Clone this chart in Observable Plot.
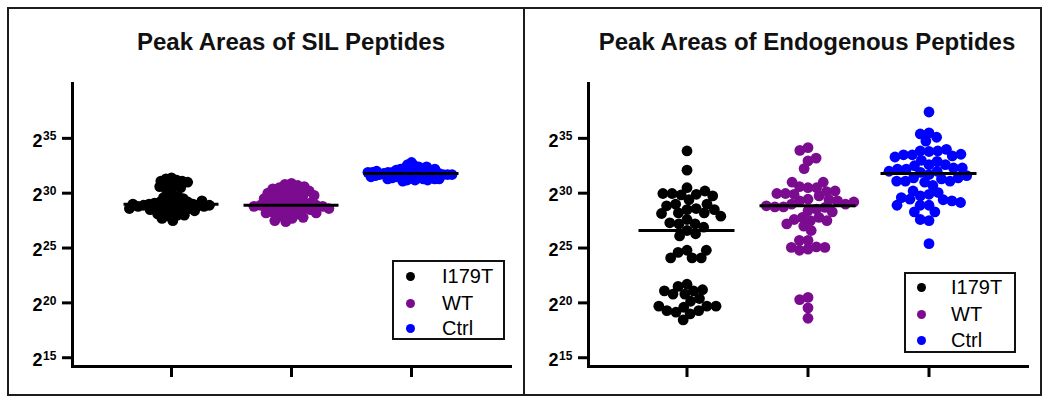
<!DOCTYPE html>
<html>
<head>
<meta charset="utf-8">
<script src="https://cdn.jsdelivr.net/npm/d3@7"></script>
<script src="https://cdn.jsdelivr.net/npm/@observablehq/plot@0.6"></script>
<style>
  html, body { margin: 0; padding: 0; background: #fff; }
  #root { position: relative; width: 1050px; height: 404px; overflow: hidden; font-family: Arial, "Liberation Sans", sans-serif; }
  .frame { position: absolute; left: 7px; top: 7px; width: 1035px; height: 389px; box-sizing: border-box; border: 2px solid #1c1c1c; }
  .divider { position: absolute; left: 523px; top: 7px; width: 2px; height: 389px; background: #1c1c1c; }
  .layer { position: absolute; top: 0; }
  .layer svg { display: block; max-width: none; }
  .title { position: absolute; width: 560px; text-align: center; font-weight: bold; font-size: 24px; line-height: 24px; color: #111; white-space: nowrap; }
  .legend { position: absolute; box-sizing: border-box; border: 2px solid #111; background: #fff; }
  .legend .dot { position: absolute; width: 9px; height: 9px; border-radius: 50%; }
  .legend .lab { position: absolute; font-size: 20px; line-height: 20px; color: #000; }
</style>
</head>
<body>
<div id="root">
  <div class="frame"></div>
  <div class="divider"></div>
</div>
<script>
// ---------- data ----------
const groups = ["I179T", "WT", "Ctrl"];
const groupColors = ["#000000", "#7b0c8f", "#0000ff"];
const yTickExponents = [15, 20, 25, 30, 35];
const yDomainExponents = [14.2, 40];

const titles = ["Peak Areas of SIL Peptides", "Peak Areas of Endogenous Peptides"];

// log2 of peak area, SIL peptides
const silI179T = [31.4, 31.3, 31.2, 31.1, 31.1, 31.0, 30.9, 30.7, 30.6, 30.5, 30.6, 30.3, 30.0, 29.8, 29.7,
  29.6, 29.5, 29.4, 29.3, 29.2, 29.2, 29.1, 29.1, 29.0, 29.0, 29.0, 28.9, 28.9, 28.9, 28.8, 28.8, 28.8,
  28.7, 28.7, 28.6, 28.6, 28.5, 28.5, 28.4, 28.4, 28.3, 28.2, 28.1, 28.0, 28.0, 27.9, 27.7, 27.5,
  29.3, 28.9, 29.0, 28.6];
const silWT = [30.9, 30.8, 30.7, 30.6, 30.5, 30.4, 30.3, 30.2, 30.1, 30.0, 30.0, 29.9, 29.8, 29.8, 29.7,
  29.6, 29.5, 29.4, 29.3, 29.2, 29.1, 29.1, 29.0, 29.0, 28.9, 28.9, 28.9, 28.8, 28.8, 28.7, 28.7, 28.6,
  28.6, 28.5, 28.5, 28.4, 28.3, 28.2, 28.2, 28.1, 28.0, 27.9, 27.8, 27.7, 27.5, 27.4];
const silCtrl = [32.8, 32.6, 32.5, 32.4, 32.3, 32.3, 32.2, 32.2, 32.1, 32.1, 32.0, 32.0, 32.0, 31.9, 31.9,
  31.9, 31.9, 31.8, 31.8, 31.8, 31.8, 31.8, 31.7, 31.7, 31.7, 31.7, 31.6, 31.6, 31.6, 31.5, 31.5, 31.5,
  31.4, 31.4, 31.4, 31.3, 31.3, 31.3, 31.2, 31.2, 31.1, 32.4, 32.2, 32.0, 31.9, 31.7, 31.6, 31.5, 31.3,
  31.2, 31.9];
const silMedians = [29.0, 28.9, 31.8];

// log2 of peak area, endogenous peptides
const endoI179T = [33.85, 32.1, 30.5, 29.85, 29.4, 29.9, 29.97, 30.2, 29.97, 29.75, 28.5, 28.2, 28.6, 29.0,
  28.2, 28.85, 29.0, 28.5, 28.15, 27.6, 27.9, 27.2, 27.2, 27.3, 26.6, 26.9, 26.1, 26.3, 24.8, 24.6, 24.1,
  24.1, 24.1, 24.8, 21.7, 21.5, 21.1, 21.2, 20.8, 20.8, 21.1, 20.15, 20.4, 19.6, 19.0, 19.3, 19.15, 19.3,
  19.7, 19.7, 19.7, 18.45];
const endoWT = [34.15, 33.9, 32.94, 32.24, 33.2, 30.5, 30.6, 30.5, 31.0, 31.0, 29.45, 29.3, 29.75, 29.9,
  30.15, 29.97, 30.2, 29.97, 29.4, 28.4, 28.55, 29.0, 28.75, 29.3, 28.75, 29.0, 28.7, 28.85, 27.8, 27.5,
  27.8, 27.6, 27.5, 27.0, 26.6, 25.7, 24.9, 24.8, 25.1, 25.06, 25.06, 25.7, 20.5, 20.3, 19.55, 18.6,
  29.2, 28.3, 27.2];
const endoCtrl = [37.4, 35.5, 35.4, 35.1, 34.75, 33.8, 33.85, 33.85, 34.0, 33.5, 32.6, 33.4, 33.5, 33.0,
  33.55, 33.3, 32.9, 32.5, 32.6, 32.2, 32.3, 31.7, 32.2, 32.0, 32.3, 32.0, 31.9, 31.3, 31.4, 31.0, 31.1,
  30.7, 31.1, 31.4, 31.6, 31.1, 29.9, 29.75, 30.06, 30.2, 29.4, 29.45, 29.3, 29.6, 28.9, 28.9, 29.15, 28.9,
  28.3, 28.3, 27.5, 27.6, 25.4];
const endoMedians = [26.6, 28.85, 31.8];

// ---------- drawing ----------
const root = document.getElementById("root");
const FONT = "Arial, Liberation Sans, sans-serif";

function panel(cfg) {
  const W = 525, H = 404;
  const common = {
    width: W, height: H,
    marginTop: 83, marginBottom: 38,
    marginLeft: cfg.marginLeft, marginRight: cfg.marginRight,
    style: {background: "transparent", overflow: "visible"}
  };
  const yScale = {type: "log", base: 2, domain: yDomainExponents.map(e => 2 ** e)};

  const base = Plot.plot({
    ...common,
    x: {type: "band", domain: groups, paddingInner: 0, paddingOuter: cfg.paddingOuter},
    y: {...yScale},
    marks: [
      Plot.frame({anchor: "left", stroke: "#000", strokeWidth: 3, strokeLinecap: "square"}),
      Plot.frame({anchor: "bottom", stroke: "#000", strokeWidth: 3, strokeLinecap: "square"}),
      Plot.axisY(yTickExponents.map(e => 2 ** e), {tickSize: 10, strokeWidth: 3, tickFormat: () => "", label: null, stroke: "#000"}),
      Plot.axisX({tickSize: 11, strokeWidth: 3, tickFormat: () => "", label: null, stroke: "#000"}),
      Plot.text(yTickExponents, {y: e => 2 ** e, text: () => "2", frameAnchor: "left", textAnchor: "end",
        dx: -30, dy: 2.4, fontSize: 18, fontWeight: "bold", fill: "#000", fontFamily: FONT}),
      Plot.text(yTickExponents, {y: e => 2 ** e, text: e => String(e), frameAnchor: "left", textAnchor: "start",
        dx: -29.5, dy: -2, fontSize: 12, fontWeight: "bold", fill: "#000", fontFamily: FONT})
    ]
  });

  const dotMarks = groups.map((g, i) =>
    Plot.dot(cfg.series[i].map(e => ({group: g, exp: e})),
      Plot.dodgeX({anchor: "middle", r: cfg.dodgeR[i], padding: 0},
        {fx: "group", y: d => 2 ** d.exp, fill: "group", r: 5.4})));

  const top = Plot.plot({
    ...common,
    fx: {domain: groups, paddingInner: 0, paddingOuter: cfg.paddingOuter, axis: null, label: null},
    y: {...yScale, axis: null},
    color: {domain: groups, range: groupColors},
    marks: [
      ...dotMarks,
      Plot.tickY(groups.map((g, i) => ({group: g, exp: cfg.medians[i]})),
        {fx: "group", y: d => 2 ** d.exp, stroke: "#000", strokeWidth: 3, insetLeft: 12.5, insetRight: 12.5})
    ]
  });

  for (const svg of [base, top]) {
    const d = document.createElement("div");
    d.className = "layer";
    d.style.left = cfg.left + "px";
    d.appendChild(svg);
    root.appendChild(d);
  }

  const t = document.createElement("div");
  t.className = "title";
  t.textContent = cfg.title;
  t.style.left = (cfg.titleCenter - 280) + "px";
  t.style.top = "30px";
  root.appendChild(t);

  const lg = document.createElement("div");
  lg.className = "legend";
  Object.assign(lg.style, {left: cfg.legend.x + "px", top: cfg.legend.y + "px", width: cfg.legend.w + "px", height: cfg.legend.h + "px"});
  groups.forEach((g, i) => {
    const cy = cfg.legend.rows[i];
    const dot = document.createElement("div");
    dot.className = "dot";
    Object.assign(dot.style, {left: (cfg.legend.dotX - 4.5) + "px", top: (cy - 4.5) + "px", background: groupColors[i]});
    const lab = document.createElement("div");
    lab.className = "lab";
    lab.textContent = g;
    Object.assign(lab.style, {left: cfg.legend.textX + "px", top: (cy - 10.5) + "px"});
    lg.appendChild(dot);
    lg.appendChild(lab);
  });
  root.appendChild(lg);
}

panel({
  left: 0, marginLeft: 72, marginRight: 15, paddingOuter: 0.31,
  series: [silI179T, silWT, silCtrl], medians: silMedians,
  dodgeR: [2.8, 3.3, 2.2],
  title: titles[0], titleCenter: 291,
  legend: {x: 392, y: 260, w: 113, h: 80, rows: [14, 41, 66], dotX: 16, textX: 48}
});
panel({
  left: 525, marginLeft: 63, marginRight: 23, paddingOuter: 0.314,
  series: [endoI179T, endoWT, endoCtrl], medians: endoMedians,
  dodgeR: [4.6, 4.3, 4.4],
  title: titles[1], titleCenter: 807,
  legend: {x: 904, y: 272, w: 112, h: 81, rows: [13, 40, 66], dotX: 15, textX: 45}
});
</script>
</body>
</html>
